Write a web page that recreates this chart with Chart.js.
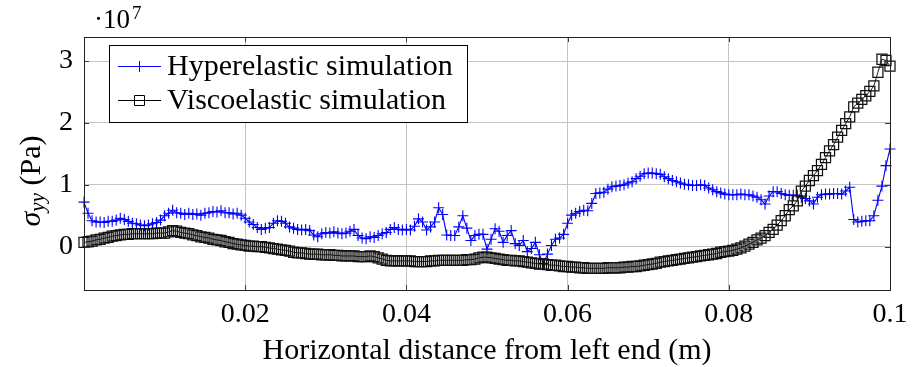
<!DOCTYPE html>
<html>
<head>
<meta charset="utf-8">
<script src="https://cdn.jsdelivr.net/npm/chart.js@4.4.1/dist/chart.umd.min.js"></script>
<style>
  body { margin: 0; background: #fff; }
  canvas { display: block; }
</style>
</head>
<body>
<canvas id="chart" width="920" height="367"></canvas>
<script>
// horizontal distance from left end (m)
var distance = [
  0, 0.0005, 0.001, 0.0015, 0.002, 0.0025, 0.003, 0.0035, 0.004, 0.0045,
  0.005, 0.0055, 0.006, 0.0065, 0.007, 0.0075, 0.008, 0.0085, 0.009, 0.0095,
  0.01, 0.0105, 0.011, 0.0115, 0.012, 0.0125, 0.013, 0.0135, 0.014, 0.0145,
  0.015, 0.0155, 0.016, 0.0165, 0.017, 0.0175, 0.018, 0.0185, 0.019, 0.0195,
  0.02, 0.0205, 0.021, 0.0215, 0.022, 0.0225, 0.023, 0.0235, 0.024, 0.0245,
  0.025, 0.0255, 0.026, 0.0265, 0.027, 0.0275, 0.028, 0.0285, 0.029, 0.0295,
  0.03, 0.0305, 0.031, 0.0315, 0.032, 0.0325, 0.033, 0.0335, 0.034, 0.0345,
  0.035, 0.0355, 0.036, 0.0365, 0.037, 0.0375, 0.038, 0.0385, 0.039, 0.0395,
  0.04, 0.0405, 0.041, 0.0415, 0.042, 0.0425, 0.043, 0.0435, 0.044, 0.0445,
  0.045, 0.0455, 0.046, 0.0465, 0.047, 0.0475, 0.048, 0.0485, 0.049, 0.0495,
  0.05, 0.0505, 0.051, 0.0515, 0.052, 0.0525, 0.053, 0.0535, 0.054, 0.0545,
  0.055, 0.0555, 0.056, 0.0565, 0.057, 0.0575, 0.058, 0.0585, 0.059, 0.0595,
  0.06, 0.0605, 0.061, 0.0615, 0.062, 0.0625, 0.063, 0.0635, 0.064, 0.0645,
  0.065, 0.0655, 0.066, 0.0665, 0.067, 0.0675, 0.068, 0.0685, 0.069, 0.0695,
  0.07, 0.0705, 0.071, 0.0715, 0.072, 0.0725, 0.073, 0.0735, 0.074, 0.0745,
  0.075, 0.0755, 0.076, 0.0765, 0.077, 0.0775, 0.078, 0.0785, 0.079, 0.0795,
  0.08, 0.0805, 0.081, 0.0815, 0.082, 0.0825, 0.083, 0.0835, 0.084, 0.0845,
  0.085, 0.0855, 0.086, 0.0865, 0.087, 0.0875, 0.088, 0.0885, 0.089, 0.0895,
  0.09, 0.0905, 0.091, 0.0915, 0.092, 0.0925, 0.093, 0.0935, 0.094, 0.0945,
  0.095, 0.0955, 0.096, 0.0965, 0.097, 0.0975, 0.098, 0.0985, 0.099, 0.0995,
  0.1
];

// sigma_yy in units of 10^7 Pa
var hyperelastic = [
  0.72, 0.54, 0.42, 0.40, 0.40, 0.39, 0.41, 0.41, 0.43, 0.46,
  0.44, 0.41, 0.38, 0.37, 0.35, 0.34, 0.35, 0.37, 0.39, 0.43,
  0.50, 0.54, 0.59, 0.55, 0.54, 0.52, 0.54, 0.52, 0.53, 0.51,
  0.54, 0.55, 0.57, 0.56, 0.58, 0.55, 0.55, 0.53, 0.54, 0.51,
  0.46, 0.40, 0.36, 0.31, 0.28, 0.30, 0.31, 0.38, 0.42, 0.41,
  0.38, 0.32, 0.30, 0.28, 0.27, 0.28, 0.26, 0.19, 0.16, 0.21,
  0.23, 0.22, 0.24, 0.22, 0.21, 0.22, 0.25, 0.28, 0.18, 0.14,
  0.13, 0.16, 0.15, 0.18, 0.21, 0.23, 0.28, 0.31, 0.28, 0.27,
  0.28, 0.27, 0.33, 0.45, 0.40, 0.27, 0.32, 0.40, 0.63, 0.52,
  0.19, 0.18, 0.18, 0.32, 0.50, 0.30, 0.10, 0.18, 0.20, 0.20,
  -0.04, 0.12, 0.29, 0.25, 0.07, 0.18, 0.26, 0.05, 0.02, 0.10,
  -0.08, -0.03, 0.07, -0.13, -0.27, -0.12, 0.02, 0.12, 0.14, 0.20,
  0.38, 0.51, 0.54, 0.57, 0.59, 0.58, 0.70, 0.86, 0.87, 0.88,
  0.93, 0.97, 0.98, 0.99, 1.00, 1.03, 1.05, 1.10, 1.14, 1.18,
  1.19, 1.19, 1.18, 1.17, 1.13, 1.10, 1.07, 1.05, 1.03, 1.01,
  1.00, 0.99, 0.99, 1.00, 0.99, 0.95, 0.92, 0.89, 0.87, 0.85,
  0.84, 0.84, 0.84, 0.85, 0.84, 0.84, 0.82, 0.80, 0.76, 0.69,
  0.82, 0.89, 0.89, 0.86, 0.84, 0.83, 0.83, 0.83, 0.80, 0.78,
  0.74, 0.69, 0.80, 0.84, 0.85, 0.85, 0.86, 0.86, 0.85, 0.90,
  0.96, 0.44, 0.40, 0.41, 0.42, 0.42, 0.50, 0.75, 0.98, 1.31,
  1.58
];

var viscoelastic = [
  0.07, 0.08, 0.09, 0.11, 0.12, 0.14, 0.15, 0.17, 0.18, 0.19,
  0.20, 0.20, 0.21, 0.21, 0.21, 0.21, 0.21, 0.21, 0.22, 0.22,
  0.22, 0.24, 0.26, 0.25, 0.23, 0.22, 0.21, 0.19, 0.18, 0.16,
  0.15, 0.14, 0.12, 0.11, 0.10, 0.08, 0.07, 0.05, 0.04, 0.03,
  0.02, 0.01, 0.01, 0.00, 0.00, -0.01, -0.02, -0.03, -0.04, -0.05,
  -0.06, -0.07, -0.09, -0.10, -0.10, -0.11, -0.12, -0.12, -0.12, -0.13,
  -0.13, -0.13, -0.14, -0.14, -0.15, -0.15, -0.15, -0.15, -0.16, -0.16,
  -0.16, -0.15, -0.16, -0.18, -0.20, -0.22, -0.23, -0.23, -0.23, -0.23,
  -0.23, -0.23, -0.24, -0.24, -0.24, -0.24, -0.23, -0.23, -0.22, -0.22,
  -0.22, -0.22, -0.22, -0.22, -0.22, -0.21, -0.21, -0.20, -0.18, -0.17,
  -0.17, -0.18, -0.19, -0.20, -0.21, -0.22, -0.22, -0.23, -0.23, -0.24,
  -0.25, -0.26, -0.27, -0.28, -0.28, -0.29, -0.30, -0.30, -0.31, -0.32,
  -0.32, -0.33, -0.33, -0.34, -0.34, -0.35, -0.35, -0.35, -0.35, -0.35,
  -0.34, -0.34, -0.34, -0.34, -0.33, -0.33, -0.32, -0.32, -0.31, -0.30,
  -0.29, -0.28, -0.27, -0.25, -0.24, -0.23, -0.22, -0.21, -0.20, -0.19,
  -0.18, -0.17, -0.16, -0.15, -0.14, -0.13, -0.12, -0.11, -0.09, -0.08,
  -0.07, -0.06, -0.04, -0.02, 0.01, 0.04, 0.07, 0.11, 0.14, 0.18,
  0.23, 0.28, 0.35, 0.42, 0.50, 0.60, 0.66, 0.74, 0.90, 0.98,
  1.07, 1.15, 1.23, 1.33, 1.44, 1.55, 1.65, 1.77, 1.88, 1.99,
  2.10, 2.26, 2.32, 2.38, 2.44, 2.51, 2.60, 2.82, 3.03, 3.01,
  2.92
];

var xTicks = [0.02, 0.04, 0.06, 0.08, 0.1];
var xTickLabels = ['0.02', '0.04', '0.06', '0.08', '0.1'];
var yTicks = [0, 1, 2, 3];
var yTickLabels = ['0', '1', '2', '3'];
var seriesNames = ['Hyperelastic simulation', 'Viscoelastic simulation'];

var FONT = "'Liberation Serif', 'Times New Roman', serif";
var BLUE = '#0000ff';

function points(ys) {
    return distance.map(function (x, i) { return {x: x, y: ys[i]}; });
}

// frame, inner tick marks, y title, exponent and legend box
var decorations = {
    id: 'decorations',
    afterDatasetsDraw: function (chart) {
        var ctx = chart.ctx;
        var a = chart.chartArea;
        var xs = chart.scales.x, ys = chart.scales.y;
        ctx.save();
        ctx.strokeStyle = '#3a3a3a';
        ctx.lineWidth = 1;
        ctx.beginPath();
        xTicks.forEach(function (v) {
            var px = Math.round(xs.getPixelForValue(v)) + 0.5;
            ctx.moveTo(px, a.bottom); ctx.lineTo(px, a.bottom - 5);
            ctx.moveTo(px, a.top); ctx.lineTo(px, a.top + 5);
        });
        yTicks.forEach(function (v) {
            var py = Math.round(ys.getPixelForValue(v)) + 0.5;
            ctx.moveTo(a.left, py); ctx.lineTo(a.left + 5, py);
            ctx.moveTo(a.right, py); ctx.lineTo(a.right - 5, py);
        });
        ctx.stroke();
        ctx.strokeStyle = '#222';
        ctx.strokeRect(Math.round(a.left) + 0.5, Math.round(a.top) + 0.5,
            Math.round(a.right - a.left), Math.round(a.bottom - a.top));

        // legend
        var bx = 109.5, by = 45.5, bw = 358, bh = 77;
        ctx.fillStyle = '#fff';
        ctx.fillRect(bx, by, bw, bh);
        ctx.strokeStyle = '#000';
        ctx.strokeRect(bx, by, bw, bh);
        var rows = [66.5, 100.5];
        var colors = [BLUE, '#000'];
        rows.forEach(function (ry, i) {
            ctx.strokeStyle = colors[i];
            ctx.lineWidth = 1;
            ctx.beginPath();
            ctx.moveTo(118, ry); ctx.lineTo(161, ry);
            if (i === 0) {
                ctx.moveTo(139.5, ry - 5.5); ctx.lineTo(139.5, ry + 5.5);
            } else {
                ctx.rect(134.5, ry - 5, 10, 10);
            }
            ctx.stroke();
            ctx.fillStyle = '#000';
            ctx.font = '30px ' + FONT;
            ctx.textAlign = 'left';
            ctx.textBaseline = 'middle';
            ctx.fillText(seriesNames[i], 167, ry + 1);
        });
        ctx.restore();
    },
    afterDraw: function (chart) {
        var ctx = chart.ctx;
        ctx.save();
        ctx.fillStyle = '#000';
        // y axis title: sigma_yy (Pa)
        ctx.translate(32, 181);
        ctx.rotate(-Math.PI / 2);
        ctx.textBaseline = 'middle';
        ctx.textAlign = 'left';
        var big = 'italic 30px ' + FONT, small = 'italic 21px ' + FONT, norm = '30px ' + FONT;
        ctx.font = big; var w1 = ctx.measureText('\u03c3').width;
        ctx.font = small; var w2 = ctx.measureText('yy').width;
        ctx.font = norm; var w3 = ctx.measureText(' (Pa)').width;
        var x0 = -(w1 + w2 + w3) / 2;
        ctx.font = big; ctx.fillText('\u03c3', x0, 0);
        ctx.font = small; ctx.fillText('yy', x0 + w1, 6);
        ctx.font = norm; ctx.fillText(' (Pa)', x0 + w1 + w2, 0);
        ctx.restore();

        // exponent marker
        ctx.save();
        ctx.fillStyle = '#000';
        ctx.textBaseline = 'alphabetic';
        ctx.textAlign = 'left';
        ctx.font = '27px ' + FONT;
        ctx.fillText('\u00b710', 94, 28);
        var w = ctx.measureText('\u00b710').width;
        ctx.font = '19px ' + FONT;
        ctx.fillText('7', 94 + w + 2, 19);
        ctx.restore();
    }
};

new Chart(document.getElementById('chart'), {
    type: 'line',
    data: {
        datasets: [{
            label: seriesNames[0],
            data: points(hyperelastic),
            borderColor: BLUE,
            borderWidth: 1.1,
            pointStyle: 'cross',
            pointRadius: 5.5,
            pointBorderColor: BLUE,
            pointBorderWidth: 1.1,
            pointBackgroundColor: BLUE,
            tension: 0,
            clip: false,
            order: 1
        }, {
            label: seriesNames[1],
            data: points(viscoelastic),
            borderColor: '#000',
            borderWidth: 0.9,
            pointStyle: 'rect',
            pointRadius: 7.1,
            pointBorderColor: '#111',
            pointBorderWidth: 1.25,
            pointBackgroundColor: 'rgba(0,0,0,0)',
            tension: 0,
            clip: false,
            order: 0
        }]
    },
    options: {
        responsive: false,
        animation: false,
        devicePixelRatio: 1,
        layout: {padding: {left: 0, right: 30, top: 37, bottom: 0}},
        plugins: {legend: {display: false}, tooltip: {enabled: false}},
        scales: {
            x: {
                type: 'linear',
                min: 0,
                max: 0.1,
                afterFit: function (s) { s.height = 77; },
                afterBuildTicks: function (s) {
                    s.ticks = xTicks.map(function (v) { return {value: v}; });
                },
                grid: {color: '#c4c4c4', lineWidth: 1, drawTicks: false},
                border: {display: false},
                ticks: {
                    color: '#000',
                    padding: 8,
                    maxRotation: 0,
                    font: {family: FONT, size: 28},
                    callback: function (v, i) { return xTickLabels[i]; }
                },
                title: {
                    display: true,
                    text: 'Horizontal distance from left end (m)',
                    color: '#000',
                    font: {family: FONT, size: 30, lineHeight: 1},
                    padding: {top: 0, bottom: 1}
                }
            },
            y: {
                type: 'linear',
                min: -0.7,
                max: 3.39,
                afterFit: function (s) { s.width = 84; },
                afterBuildTicks: function (s) {
                    s.ticks = yTicks.map(function (v) { return {value: v}; });
                },
                grid: {color: '#c4c4c4', lineWidth: 1, drawTicks: false},
                border: {display: false},
                ticks: {
                    color: '#000',
                    padding: 11,
                    font: {family: FONT, size: 28},
                    callback: function (v, i) { return yTickLabels[i]; }
                }
            }
        }
    },
    plugins: [decorations]
});
</script>
</body>
</html>
